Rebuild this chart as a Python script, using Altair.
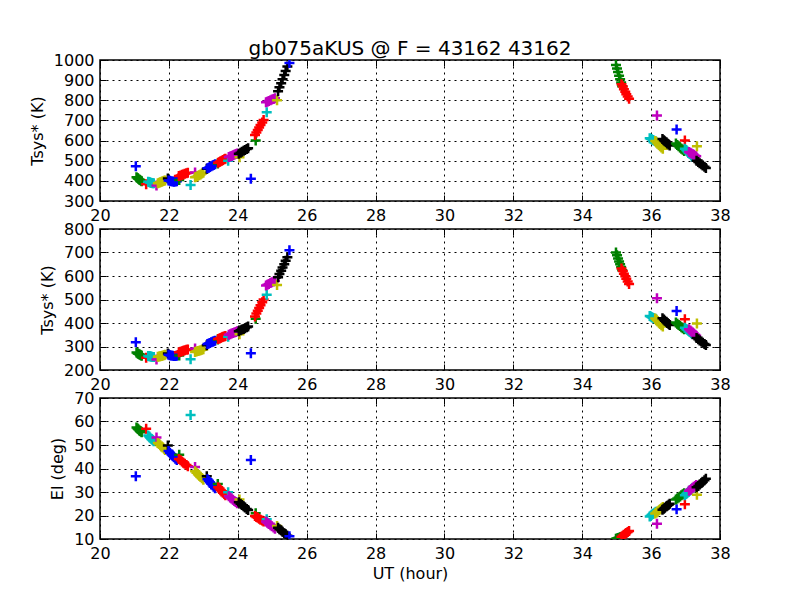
import altair as alt
import pandas as pd

# matplotlib classic colour cycle b g r c m y k
COLOR_HEX = {"b": "#0000ff", "g": "#008000", "r": "#ff0000", "c": "#00bfbf",
             "m": "#bf00bf", "y": "#bfbf00", "k": "#000000"}

# one entry per scan: colour code, UT (hour), Tsys* panel 1, Tsys* panel 2, elevation
SCAN_COLOR = ["b", "g", "r", "c", "m", "y", "k", "b", "g", "r", "c", "m", "y", "k",
              "b", "g", "r", "c", "m", "y", "k", "b", "g", "r", "c", "m", "y", "k", "b",
              "g", "r", "c", "m", "y", "k", "b", "g", "r", "c", "m", "y", "k"]

SCAN_UT = [
    [21.04],
    [21.06, 21.09, 21.11, 21.14, 21.16, 21.19, 21.21],
    [21.34],
    [21.40, 21.43, 21.45, 21.48, 21.50, 21.53, 21.56],
    [21.64],
    [21.68, 21.72, 21.75, 21.79, 21.82, 21.86, 21.89],
    [21.97],
    [21.99, 22.03, 22.07, 22.11, 22.15, 22.19, 22.23],
    [22.30],
    [22.29, 22.34, 22.38, 22.42, 22.46, 22.51, 22.55],
    [22.63],
    [22.76],
    [22.76, 22.80, 22.84, 22.88, 22.92, 22.96, 23.00],
    [23.10],
    [23.12, 23.16, 23.19, 23.23, 23.27, 23.30, 23.34],
    [23.42],
    [23.43, 23.47, 23.50, 23.54, 23.57, 23.61, 23.64],
    [23.72],
    [23.74, 23.78, 23.82, 23.86, 23.90, 23.94, 23.98],
    [24.05],
    [24.03, 24.08, 24.12, 24.17, 24.21, 24.26, 24.30],
    [24.38],
    [24.52],
    [24.50, 24.54, 24.58, 24.62, 24.66, 24.71, 24.75],
    [24.84],
    [24.82, 24.86, 24.90, 24.95, 24.99, 25.04, 25.08],
    [25.14],
    [25.17, 25.21, 25.26, 25.30, 25.35, 25.39, 25.44],
    [25.50],
    [34.98, 35.01, 35.04, 35.07, 35.10, 35.13, 35.16],
    [35.14, 35.18, 35.21, 35.25, 35.28, 35.32, 35.36],
    [35.96, 35.99, 36.02, 36.05, 36.08, 36.11, 36.14],
    [36.17],
    [36.12, 36.16, 36.19, 36.23, 36.26, 36.30, 36.34],
    [36.33, 36.37, 36.40, 36.44, 36.47, 36.51, 36.54],
    [36.74],
    [36.72, 36.76, 36.80, 36.84, 36.88, 36.92, 36.96],
    [36.98],
    [36.98, 37.02, 37.05, 37.09, 37.12, 37.16, 37.19],
    [37.10, 37.14, 37.17, 37.21, 37.24, 37.28, 37.31],
    [37.33],
    [37.32, 37.37, 37.41, 37.46, 37.50, 37.55, 37.59],
]

SCAN_TSYS1 = [
    [472],
    [418, 414, 410, 407, 404, 401, 398],
    [383],
    [395, 394, 392, 391, 389, 388, 388],
    [377],
    [388, 390, 393, 395, 398, 400, 402],
    [412],
    [402, 400, 398, 397, 396, 397, 398],
    [404],
    [424, 427, 430, 432, 435, 438, 440],
    [380],
    [441],
    [418, 421, 425, 428, 432, 436, 440],
    [460],
    [462, 465, 469, 472, 476, 479, 483],
    [486],
    [490, 494, 497, 500, 503, 507, 510],
    [500],
    [518, 521, 524, 527, 530, 533, 536],
    [517],
    [535, 540, 544, 549, 553, 558, 562],
    [410],
    [600],
    [628, 640, 652, 665, 677, 690, 702],
    [740],
    [790, 793, 797, 800, 804, 807, 810],
    [800],
    [845, 865, 885, 905, 925, 946, 968],
    [985],
    [975, 958, 940, 922, 905, 888, 870],
    [880, 868, 855, 842, 830, 819, 808],
    [612, 609, 606, 603, 600, 598, 595],
    [725],
    [598, 592, 585, 578, 572, 566, 560],
    [608, 602, 597, 592, 586, 580, 575],
    [655],
    [585, 578, 572, 566, 560, 554, 548],
    [600],
    [560, 553, 547, 540, 533, 527, 520],
    [543, 540, 536, 532, 529, 525, 522],
    [572],
    [500, 494, 488, 482, 476, 470, 464],
]

SCAN_TSYS2 = [
    [318],
    [274, 271, 269, 267, 265, 263, 261],
    [252],
    [260, 259, 258, 257, 256, 255, 255],
    [245],
    [256, 257, 259, 260, 262, 263, 265],
    [270],
    [265, 263, 262, 261, 260, 260, 261],
    [262],
    [276, 278, 280, 282, 284, 286, 287],
    [246],
    [292],
    [277, 279, 281, 282, 284, 286, 288],
    [305],
    [311, 313, 315, 318, 320, 322, 325],
    [330],
    [332, 334, 336, 339, 341, 343, 345],
    [342],
    [350, 352, 355, 357, 360, 362, 365],
    [352],
    [365, 369, 372, 375, 378, 382, 385],
    [271],
    [418],
    [428, 440, 452, 464, 476, 488, 500],
    [520],
    [560, 563, 566, 570, 573, 577, 580],
    [562],
    [595, 608, 622, 636, 650, 665, 680],
    [710],
    [700, 688, 675, 662, 650, 638, 625],
    [632, 621, 610, 599, 588, 577, 566],
    [430, 428, 425, 422, 420, 418, 416],
    [505],
    [419, 414, 408, 402, 396, 390, 385],
    [420, 415, 410, 405, 400, 396, 392],
    [451],
    [402, 397, 392, 387, 382, 378, 373],
    [416],
    [380, 375, 371, 366, 362, 357, 353],
    [373, 368, 364, 360, 355, 350, 346],
    [398],
    [336, 331, 326, 321, 316, 311, 306],
]

SCAN_EL = [
    [36.7],
    [57.4, 57.0, 56.7, 56.3, 56.0, 55.7, 55.4],
    [56.9],
    [54.0, 53.6, 53.2, 52.8, 52.4, 52.0, 51.6],
    [53.2],
    [50.9, 50.4, 49.9, 49.4, 48.9, 48.4, 47.9],
    [49.8],
    [47.4, 46.7, 46.1, 45.4, 44.8, 44.2, 43.6],
    [45.8],
    [44.0, 43.5, 43.0, 42.5, 42.0, 41.5, 41.0],
    [62.8],
    [40.6],
    [38.8, 38.2, 37.6, 37.0, 36.4, 35.8, 35.2],
    [36.7],
    [35.4, 34.8, 34.1, 33.5, 32.9, 32.2, 31.6],
    [33.4],
    [32.0, 31.5, 30.9, 30.3, 29.7, 29.2, 28.6],
    [29.9],
    [28.2, 27.7, 27.2, 26.7, 26.2, 25.7, 25.2],
    [26.8],
    [25.6, 25.0, 24.5, 23.9, 23.4, 22.8, 22.3],
    [43.6],
    [21.0],
    [19.8, 19.4, 19.0, 18.6, 18.2, 17.9, 17.5],
    [18.4],
    [17.4, 16.9, 16.4, 15.9, 15.4, 14.9, 14.4],
    [15.5],
    [14.8, 14.2, 13.7, 13.1, 12.5, 12.0, 11.4],
    [11.2],
    [10.1, 10.25, 10.4, 10.55, 10.7, 10.85, 11.0],
    [11.0, 11.4, 11.8, 12.2, 12.6, 13.0, 13.4],
    [19.6, 19.9, 20.3, 20.6, 21.0, 21.3, 21.6],
    [16.5],
    [20.9, 21.3, 21.8, 22.2, 22.7, 23.1, 23.6],
    [22.5, 22.9, 23.3, 23.8, 24.2, 24.6, 25.0],
    [22.7],
    [26.8, 27.2, 27.7, 28.1, 28.6, 29.0, 29.5],
    [24.8],
    [28.6, 29.1, 29.6, 30.1, 30.6, 31.1, 31.6],
    [30.5, 30.9, 31.3, 31.8, 32.2, 32.6, 33.0],
    [28.8],
    [32.0, 32.6, 33.2, 33.8, 34.4, 35.0, 35.6],
]

X_TICKS = [20, 22, 24, 26, 28, 30, 32, 34, 36, 38]
Y1_TICKS = [300, 400, 500, 600, 700, 800, 900, 1000]
Y2_TICKS = [200, 300, 400, 500, 600, 700, 800]
EL_TICKS = [10, 20, 30, 40, 50, 60, 70]
TITLE = "gb075aKUS @ F = 43162 43162"

rows = []
for i, code in enumerate(SCAN_COLOR):
    for ut, t1, t2, el in zip(SCAN_UT[i], SCAN_TSYS1[i], SCAN_TSYS2[i], SCAN_EL[i]):
        rows.append({"scan": i, "ut": ut, "tsys1": t1, "tsys2": t2, "el": el,
                     "hex": COLOR_HEX[code]})
df = pd.DataFrame(rows)

FONT = "DejaVu Sans"
PLUS = "M-1,0L1,0M0,-1L0,1"
W, H = 620, 141


def panel(field, ticks, ytitle, xtitle=None, title=None):
    xs = alt.Scale(domain=[X_TICKS[0], X_TICKS[-1]], nice=False, zero=False)
    ys = alt.Scale(domain=[ticks[0], ticks[-1]], nice=False, zero=False)
    base = alt.Chart(df)
    x_main = dict(values=X_TICKS, grid=True, ticks=False, domain=False, labelPadding=6,
                  titlePadding=4, orient="bottom", format="d", labelFlush=False)
    x_main["title"] = xtitle if xtitle else None
    main = base.mark_point(shape=PLUS, size=100, strokeWidth=2.5, filled=False,
                           opacity=1, clip=True).encode(
        x=alt.X("ut:Q", scale=xs, axis=alt.Axis(**x_main)),
        y=alt.Y(f"{field}:Q", scale=ys,
                axis=alt.Axis(values=ticks, grid=True, ticks=False, domain=False,
                              labelPadding=6, titlePadding=8, title=ytitle,
                              orient="left", format="d", labelFlush=False)),
        color=alt.Color("hex:N", scale=None),
        detail="scan:N",
    )
    tick_kw = dict(tickSize=6, labels=False, domain=False, grid=False, title=None,
                   tickColor="black", tickWidth=1, offset=-6)
    tb = base.mark_point(opacity=0).encode(
        x=alt.X("ut:Q", scale=xs, axis=alt.Axis(values=X_TICKS, orient="bottom", **tick_kw)),
        y=alt.Y(f"{field}:Q", scale=ys, axis=alt.Axis(values=ticks, orient="left", **tick_kw)),
    )
    tt = base.mark_point(opacity=0).encode(
        x=alt.X("ut:Q", scale=xs, axis=alt.Axis(values=X_TICKS, orient="top", **tick_kw)),
        y=alt.Y(f"{field}:Q", scale=ys, axis=alt.Axis(values=ticks, orient="right", **tick_kw)),
    )
    lay = alt.layer(main, tb, tt).resolve_axis(x="independent", y="independent")
    props = dict(width=W, height=H)
    if title:
        props["title"] = alt.TitleParams(text=title, fontSize=20, font=FONT,
                                         fontWeight="normal", anchor="middle",
                                         frame="group", offset=-7, color="black")
    return lay.properties(**props)


p1 = panel("tsys1", Y1_TICKS, "Tsys* (K)", title=TITLE)
p2 = panel("tsys2", Y2_TICKS, "Tsys* (K)")
p3 = panel("el", EL_TICKS, "El (deg)", xtitle="UT (hour)")

chart = alt.vconcat(p1, p2, p3, spacing=28, bounds="flush").properties(
    padding={"left": 20, "top": 30, "right": 5, "bottom": 5}
).configure(
    background="white"
).configure_view(
    stroke="black", strokeWidth=1.5
).configure_axis(
    labelFont=FONT, labelFontSize=16, labelColor="black",
    titleFont=FONT, titleFontSize=16, titleFontWeight="normal", titleColor="black",
    gridColor="black", gridWidth=1, gridDash=[2, 4], gridOpacity=1,
)

chart.save("out.html", embed_options={"renderer": "svg", "actions": False})
